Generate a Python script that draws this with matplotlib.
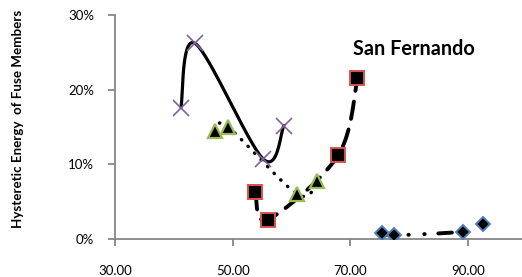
import numpy as np
import matplotlib
matplotlib.use("Agg")
import matplotlib.pyplot as plt
from matplotlib.ticker import FuncFormatter

plt.rcParams['font.family'] = ['Lato', 'DejaVu Sans']

# Data
x_cross = [41.2, 43.6, 55.2, 58.7]
y_cross = [0.176, 0.262, 0.107, 0.152]

x_tri = [47.0, 49.2, 61.0, 64.4]
y_tri = [0.145, 0.150, 0.060, 0.078]

x_sq = [53.85, 55.95, 67.9, 71.2]
y_sq = [0.063, 0.026, 0.112, 0.216]

x_dia = [75.3, 77.4, 89.1, 92.5]
y_dia = [0.0076, 0.005, 0.010, 0.020]

title = "San Fernando"
ylabel = "Hysteretic Energy  of Fuse Members"
xticks = [30, 50, 70, 90]
yticks = [0, 0.1, 0.2, 0.3]


def smooth(xs, ys, n=60):
    """Excel-like smoothed line: Catmull-Rom Bezier through the points."""
    xs = np.asarray(xs, float)
    ys = np.asarray(ys, float)
    px, py = [], []
    m = len(xs)
    for i in range(m - 1):
        p0 = (xs[max(i - 1, 0)], ys[max(i - 1, 0)])
        p1 = (xs[i], ys[i])
        p2 = (xs[i + 1], ys[i + 1])
        p3 = (xs[min(i + 2, m - 1)], ys[min(i + 2, m - 1)])
        c1 = (p1[0] + (p2[0] - p0[0]) / 6, p1[1] + (p2[1] - p0[1]) / 6)
        c2 = (p2[0] - (p3[0] - p1[0]) / 6, p2[1] - (p3[1] - p1[1]) / 6)
        t = np.linspace(0, 1, n)
        bx = (1 - t) ** 3 * p1[0] + 3 * (1 - t) ** 2 * t * c1[0] + 3 * (1 - t) * t ** 2 * c2[0] + t ** 3 * p2[0]
        by = (1 - t) ** 3 * p1[1] + 3 * (1 - t) ** 2 * t * c1[1] + 3 * (1 - t) * t ** 2 * c2[1] + t ** 3 * p2[1]
        px.extend(bx)
        py.extend(by)
    return np.array(px), np.array(py)


fig = plt.figure(figsize=(5.22, 2.77), dpi=100)
W, H = 522, 277
ax = fig.add_axes([115 / W, 38 / H, (527 - 115) / W, 224 / H])

gray = '#868686'

# Cross series (solid smooth)
sx, sy = smooth(x_cross, y_cross)
ax.plot(sx, sy, color='black', lw=2.3, solid_capstyle='round', zorder=2)
ax.plot(x_cross, y_cross, ls='none', marker='x', ms=11, mew=1.2, color='#8064A2', zorder=5)

# Triangle series (dotted)
sx, sy = smooth(x_tri, y_tri)
ax.plot(sx, sy, color='black', lw=2.5, ls=(0, (0.1, 2.6)), dash_capstyle='round', zorder=2)
ax.plot(x_tri, y_tri, ls='none', marker='^', ms=10, mfc='black', mec='#9BBB59', mew=1.6, zorder=5)

# Square series (dashed)
sx, sy = smooth(x_sq, y_sq)
ax.plot(sx, sy, color='black', lw=2.8, ls=(0, (4.5, 2.8)), dash_capstyle='round', zorder=2)
ax.plot(x_sq, y_sq, ls='none', marker='s', ms=10, mfc='black', mec='#D9534F', mew=1.4, zorder=5)

# Diamond series (dash-dot-dot)
sx, sy = smooth(x_dia, y_dia)
ax.plot(sx, sy, color='black', lw=2.8, ls=(0, (3.5, 3.5, 0.1, 4, 0.1, 3.5)), dash_capstyle='round', zorder=2)
ax.plot(x_dia, y_dia, ls='none', marker='D', ms=7.5, mfc='black', mec='#4F81BD', mew=1.4, zorder=5)

ax.set_xlim(30, 100)
ax.set_ylim(0, 0.30)
ax.set_xticks(xticks)
ax.set_yticks(yticks)
ax.xaxis.set_major_formatter(FuncFormatter(lambda v, p: f"{v:.2f}"))
ax.yaxis.set_major_formatter(FuncFormatter(lambda v, p: f"{v*100:.0f}%"))

for s in ['top', 'right']:
    ax.spines[s].set_visible(False)
for s in ['left', 'bottom']:
    ax.spines[s].set_color(gray)
    ax.spines[s].set_linewidth(1.3)
ax.tick_params(axis='both', colors=gray, length=5, width=1.3, labelsize=9.5, labelcolor='black')
ax.tick_params(axis='y', pad=10)
ax.tick_params(axis='x', pad=14)

ax.text(80.8, 0.255, title, fontsize=14.3, fontweight='bold', ha='center', va='center')
fig.text(18 / W, 1 - 119 / H, ylabel, rotation=90, fontsize=9.6, fontweight='bold', ha='center', va='center')

fig.savefig('out.png', dpi=100)
